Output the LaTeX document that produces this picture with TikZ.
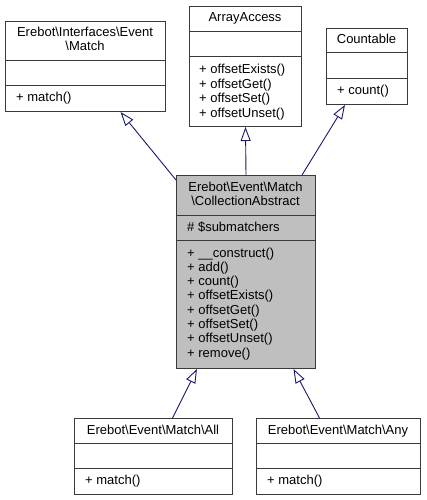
\documentclass[tikz,border=0pt]{standalone}
\usepackage{fontspec}
\setsansfont{Liberation Sans}
\usetikzlibrary{arrows.meta}
\definecolor{edgenavy}{HTML}{191970}
\definecolor{boxline}{HTML}{3A3A3A}
\definecolor{boxgrey}{HTML}{BFBFBF}

\begin{document}
\begin{tikzpicture}[font=\sffamily\fontsize{13}{14.3}\selectfont,x=1pt,y=-1pt,line cap=butt,line join=miter,
  classbox/.style={draw=boxline,line width=1pt,inner sep=0pt,anchor=north west},
  partline/.style={draw=boxline,line width=1pt},
  heading/.style={anchor=base,inner sep=0pt,text=black},
  member/.style={anchor=base west,inner sep=0pt,text=black},
  inherit/.style={draw=edgenavy,line width=.9pt,-{Triangle[open,length=14pt,width=10pt]}}]
  \useasboundingbox[fill=white] (0,0) rectangle (427,500);
  % parent classes
  \node[classbox,minimum width=160pt,minimum height=90pt] (imatch) at (5,21) {};
  \draw[partline] (5,61)--(165,61) (5,86)--(165,86);
  \node[heading] at (85,37) {Erebot\textbackslash Interfaces\textbackslash Event};
  \node[heading] at (85,51) {\textbackslash Match};
  \node[member] at (16,102) {+ match()};

  \node[classbox,minimum width=112pt,minimum height=120pt] (aa) at (189,6) {};
  \draw[partline] (189,32)--(301,32) (189,57)--(301,57);
  \node[heading] at (245,22) {ArrayAccess};
  \foreach \y/\lab in {74/offsetExists(),88.4/offsetGet(),102.8/offsetSet(),117.2/offsetUnset()}{
    \node[member] at (199,\y) {+ \lab};
  }

  \node[classbox,minimum width=81pt,minimum height=76pt] (cntbl) at (326,28) {};
  \draw[partline] (326,53)--(407,53) (326,79)--(407,79);
  \node[heading] at (366.5,44) {Countable};
  \node[member] at (337,95) {+ count()};

  % the abstract collection
  \node[classbox,fill=boxgrey,minimum width=139pt,minimum height=193pt] (cabs) at (176,175) {};
  \draw[partline] (176,215)--(315,215) (176,240)--(315,240);
  \node[heading] at (245.5,191) {Erebot\textbackslash Event\textbackslash Match};
  \node[heading] at (245.5,205.5) {\textbackslash CollectionAbstract};
  \node[member] at (187,231) {\# \$submatchers};
  \foreach \y/\lab in {257/\_\_construct(),271.3/add(),285.6/count(),299.9/offsetExists(),
    314.2/offsetGet(),328.5/offsetSet(),342.8/offsetUnset(),357.1/remove()}{
    \node[member] at (187,\y) {+ \lab};
  }

  % child classes
  \node[classbox,minimum width=158pt,minimum height=76pt] (all) at (74,418) {};
  \draw[partline] (74,443)--(232,443) (74,468)--(232,468);
  \node[heading] at (153,434.5) {Erebot\textbackslash Event\textbackslash Match\textbackslash All};
  \node[member] at (85,484.5) {+ match()};

  \node[classbox,minimum width=164pt,minimum height=76pt] (any) at (256,418) {};
  \draw[partline] (256,443)--(420,443) (256,468)--(420,468);
  \node[heading] at (338,434.5) {Erebot\textbackslash Event\textbackslash Match\textbackslash Any};
  \node[member] at (267,484.5) {+ match()};

  % inheritance
  \draw[inherit] ([yshift=-5pt]cabs.north west) -- ([xshift=35pt]imatch.south);
  \draw[inherit] (cabs.north) -- (aa.south);
  \draw[inherit] ([xshift=-14pt]cabs.north east) -- ([xshift=-22pt]cntbl.south);
  \draw[inherit] ([xshift=19pt]all.north) -- ([xshift=-49pt]cabs.south);
  \draw[inherit] ([xshift=-19pt]any.north) -- ([xshift=47.5pt]cabs.south);
\end{tikzpicture}
\end{document}
